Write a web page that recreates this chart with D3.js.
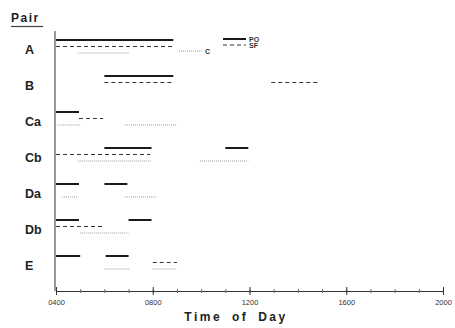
<!DOCTYPE html>
<html>
<head>
<meta charset="utf-8">
<script src="https://cdn.jsdelivr.net/npm/d3@7"></script>
<style>
  html, body { margin: 0; padding: 0; background: #fff; }
  svg { display: block; font-family: "Liberation Sans", Arial, sans-serif; }
</style>
</head>
<body>
<div id="chart"></div>
<script>
// pairs, top to bottom
const pairs = ["A", "B", "Ca", "Cb", "Da", "Db", "E"];

// bouts as [pair, start hour, end hour]
const poBouts = [
  ["A", 4.0, 8.85], ["B", 6.0, 8.85],
  ["Ca", 4.0, 4.95],
  ["Cb", 6.0, 7.95], ["Cb", 11.0, 11.95],
  ["Da", 4.0, 4.95], ["Da", 6.0, 6.95],
  ["Db", 4.0, 4.95], ["Db", 7.0, 7.95],
  ["E", 4.0, 5.0], ["E", 6.05, 7.0]
];
const sfBouts = [
  ["A", 4.0, 8.85], ["B", 6.0, 8.9], ["B", 12.9, 14.9],
  ["Ca", 4.95, 5.95],
  ["Cb", 4.0, 7.9],
  ["Db", 4.0, 6.0],
  ["E", 8.0, 9.0]
];
const cBouts = [
  ["A", 4.9, 7.0],
  ["Ca", 4.05, 5.0], ["Ca", 6.85, 9.0],
  ["Cb", 4.9, 7.95], ["Cb", 9.95, 11.95],
  ["Da", 4.25, 4.9], ["Da", 6.85, 8.15],
  ["Db", 5.0, 7.0],
  ["E", 6.0, 7.05], ["E", 8.0, 9.0]
];

const tickHours = [4, 8, 12, 16, 20];
const minorHours = d3.range(4, 21);

const width = 455, height = 328;

const svg = d3.select("#chart").append("svg")
  .attr("width", width)
  .attr("height", height);

const x = d3.scaleLinear().domain([4, 20]).range([56, 443]);
const y = d3.scalePoint().domain(pairs).range([40, 256]);
const axisY = 291;

// series styles
const series = [
  { key: "PO", data: poBouts, dy: 0, stroke: "#1a1a1a", width: 2, dash: null },
  { key: "SF", data: sfBouts, dy: 6.5, stroke: "#333", width: 1, dash: "4,3" },
  { key: "C", data: cBouts, dy: 13, stroke: "#9a9a9a", width: 1, dash: "1,1" }
];

// x axis: minor hourly ticks
const minorAxis = d3.axisBottom(x)
  .tickValues(minorHours)
  .tickSize(2)
  .tickFormat("");
svg.append("g")
  .attr("transform", `translate(0,${axisY})`)
  .call(minorAxis)
  .call(g => g.select(".domain").attr("stroke", "#333"))
  .call(g => g.selectAll(".tick line").attr("stroke", "#666").attr("y1", -2));

// x axis: major ticks with labels
const majorAxis = d3.axisBottom(x)
  .tickValues(tickHours)
  .tickSize(4)
  .tickSizeOuter(0)
  .tickFormat(d => d3.format("02d")(d) + "00");
svg.append("g")
  .attr("transform", `translate(0,${axisY})`)
  .call(majorAxis)
  .call(g => g.select(".domain").remove())
  .call(g => g.selectAll(".tick line").attr("stroke", "#333").attr("y1", -4))
  .call(g => g.selectAll(".tick text")
    .attr("font-size", "7.5px")
    .attr("fill", "#333")
    .attr("dy", "0.9em"));

// y axis line
svg.append("line")
  .attr("x1", 55).attr("x2", 55)
  .attr("y1", 31).attr("y2", axisY)
  .attr("stroke", "#333")
  .attr("stroke-width", 1);

// bouts
series.forEach(s => {
  svg.append("g")
    .attr("class", "series-" + s.key)
    .selectAll("line")
    .data(s.data)
    .enter()
    .append("line")
    .attr("x1", d => x(d[1]))
    .attr("x2", d => x(d[2]))
    .attr("y1", d => y(d[0]) + s.dy)
    .attr("y2", d => y(d[0]) + s.dy)
    .attr("stroke", s.stroke)
    .attr("stroke-width", s.width)
    .attr("stroke-dasharray", s.dash);
});

// pair labels
svg.append("g")
  .selectAll("text")
  .data(pairs)
  .enter()
  .append("text")
  .attr("x", 25)
  .attr("y", d => y(d) + 14)
  .attr("font-size", "12.5px")
  .attr("font-weight", "bold")
  .attr("fill", "#222")
  .text(d => d);

// "Pair" heading
svg.append("text")
  .attr("x", 11)
  .attr("y", 22)
  .attr("font-size", "12px")
  .attr("font-weight", "bold")
  .attr("letter-spacing", "1.5px")
  .attr("fill", "#222")
  .text("Pair");
svg.append("line")
  .attr("x1", 11).attr("x2", 43)
  .attr("y1", 26.5).attr("y2", 26.5)
  .attr("stroke", "#444")
  .attr("stroke-width", 1.2);

// legend
const legend = [
  { key: "PO", x0: 223, y0: 39 },
  { key: "SF", x0: 223, y0: 45 },
  { key: "C", x0: 179, y0: 51 }
];
legend.forEach(l => {
  const s = series.find(d => d.key === l.key);
  svg.append("line")
    .attr("x1", l.x0).attr("x2", l.x0 + 23)
    .attr("y1", l.y0).attr("y2", l.y0)
    .attr("stroke", s.stroke)
    .attr("stroke-width", s.width)
    .attr("stroke-dasharray", s.dash);
  svg.append("text")
    .attr("x", l.x0 + 26)
    .attr("y", l.y0 + 2.5)
    .attr("font-size", "7px")
    .attr("font-weight", "bold")
    .attr("fill", "#333")
    .text(l.key);
});

// x axis title
svg.append("text")
  .attr("x", 236)
  .attr("y", 321)
  .attr("text-anchor", "middle")
  .attr("font-size", "12px")
  .attr("font-weight", "bold")
  .attr("letter-spacing", "2.5px")
  .attr("word-spacing", "4px")
  .attr("fill", "#222")
  .text("Time of Day");
</script>
</body>
</html>
